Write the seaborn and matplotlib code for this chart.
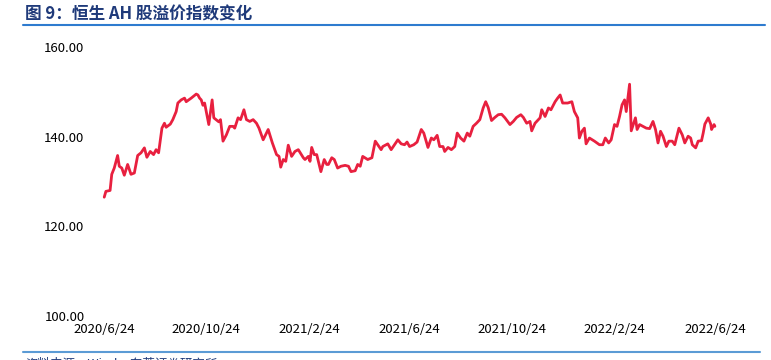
import matplotlib
matplotlib.use("Agg")
import matplotlib.pyplot as plt
import matplotlib.dates as mdates
import pandas as pd
import seaborn as sns

# ---- data ----
dates = [
    "2020-06-24", "2020-06-26", "2020-07-01", "2020-07-03", "2020-07-06", "2020-07-10", "2020-07-12",
    "2020-07-15", "2020-07-18", "2020-07-22", "2020-07-26", "2020-07-30", "2020-08-03", "2020-08-07",
    "2020-08-11", "2020-08-14", "2020-08-18", "2020-08-22", "2020-08-25", "2020-08-28", "2020-09-01",
    "2020-09-04", "2020-09-06", "2020-09-11", "2020-09-14", "2020-09-18", "2020-09-20", "2020-09-24",
    "2020-09-28", "2020-09-30", "2020-10-06", "2020-10-12", "2020-10-14", "2020-10-16", "2020-10-18",
    "2020-10-20", "2020-10-22", "2020-10-27", "2020-10-31", "2020-11-02", "2020-11-08", "2020-11-10",
    "2020-11-13", "2020-11-17", "2020-11-21", "2020-11-25", "2020-11-27", "2020-12-01", "2020-12-04",
    "2020-12-08", "2020-12-11", "2020-12-15", "2020-12-19", "2020-12-23", "2020-12-26", "2020-12-31",
    "2021-01-06", "2021-01-11", "2021-01-16", "2021-01-19", "2021-01-21", "2021-01-24", "2021-01-27",
    "2021-01-30", "2021-02-03", "2021-02-07", "2021-02-11", "2021-02-17", "2021-02-19", "2021-02-23",
    "2021-02-25", "2021-02-27", "2021-03-02", "2021-03-05", "2021-03-10", "2021-03-14", "2021-03-17",
    "2021-03-19", "2021-03-23", "2021-03-26", "2021-03-30", "2021-04-03", "2021-04-08", "2021-04-12",
    "2021-04-15", "2021-04-20", "2021-04-23", "2021-04-26", "2021-04-29", "2021-05-05", "2021-05-10",
    "2021-05-14", "2021-05-17", "2021-05-21", "2021-05-23", "2021-05-29", "2021-06-02", "2021-06-06",
    "2021-06-10", "2021-06-14", "2021-06-18", "2021-06-21", "2021-06-24", "2021-06-29", "2021-07-03",
    "2021-07-08", "2021-07-11", "2021-07-16", "2021-07-20", "2021-07-23", "2021-07-27", "2021-07-30",
    "2021-08-03", "2021-08-05", "2021-08-09", "2021-08-13", "2021-08-17", "2021-08-20", "2021-08-24",
    "2021-08-28", "2021-09-01", "2021-09-04", "2021-09-08", "2021-09-12", "2021-09-16", "2021-09-20",
    "2021-09-23", "2021-09-26", "2021-09-30", "2021-10-04", "2021-10-08", "2021-10-12", "2021-10-16",
    "2021-10-22", "2021-10-26", "2021-10-30", "2021-11-04", "2021-11-07", "2021-11-11", "2021-11-15",
    "2021-11-17", "2021-11-21", "2021-11-24", "2021-11-27", "2021-11-29", "2021-12-03", "2021-12-07",
    "2021-12-10", "2021-12-15", "2021-12-18", "2021-12-21", "2021-12-24", "2021-12-30", "2022-01-04",
    "2022-01-07", "2022-01-11", "2022-01-13", "2022-01-16", "2022-01-19", "2022-01-21", "2022-01-25",
    "2022-01-31", "2022-02-06", "2022-02-10", "2022-02-13", "2022-02-17", "2022-02-20", "2022-02-24",
    "2022-02-27", "2022-03-02", "2022-03-05", "2022-03-08", "2022-03-10", "2022-03-12", "2022-03-14",
    "2022-03-16", "2022-03-19", "2022-03-21", "2022-03-23", "2022-03-26", "2022-03-30", "2022-04-03",
    "2022-04-07", "2022-04-11", "2022-04-14", "2022-04-17", "2022-04-20", "2022-04-23", "2022-04-27",
    "2022-04-30", "2022-05-04", "2022-05-07", "2022-05-12", "2022-05-16", "2022-05-19", "2022-05-23",
    "2022-05-26", "2022-05-28", "2022-06-01", "2022-06-04", "2022-06-08", "2022-06-10", "2022-06-12",
    "2022-06-16", "2022-06-19", "2022-06-20", "2022-06-23", "2022-06-24",
]
ah_premium = [
    126.5, 127.8, 128.0, 131.6, 133.0, 135.8, 133.4,
    133.0, 131.4, 133.8, 131.6, 131.9, 135.8, 136.4,
    137.5, 135.4, 136.7, 136.0, 137.1, 136.4, 141.9,
    143.0, 142.1, 142.8, 143.8, 145.6, 147.5, 148.2,
    148.6, 147.8, 148.6, 149.5, 149.3, 148.6, 148.2,
    147.0, 147.5, 142.7, 148.2, 144.2, 143.3, 143.8,
    139.0, 140.4, 142.3, 142.3, 141.9, 144.2, 143.8,
    146.0, 143.8, 143.4, 143.8, 143.0, 141.9, 139.3,
    141.6, 138.6, 136.0, 135.6, 133.2, 134.9, 134.5,
    138.1, 135.6, 136.7, 137.1, 135.3, 134.9, 135.6,
    134.5, 137.6, 136.0, 136.0, 132.2, 134.9, 133.8,
    133.8, 135.3, 134.9, 133.0, 133.4, 133.6, 133.4,
    132.2, 132.4, 133.8, 133.4, 135.6, 134.9, 135.3,
    139.0, 138.2, 137.1, 137.8, 138.4, 137.1, 138.2,
    139.3, 138.4, 138.2, 138.8, 137.8, 138.2, 138.8,
    141.6, 140.8, 137.6, 139.7, 139.3, 140.3, 137.8,
    137.8, 136.7, 137.6, 137.1, 137.8, 140.8, 139.7,
    139.0, 140.8, 140.1, 142.3, 143.0, 143.8, 146.4,
    147.8, 146.5, 143.6, 144.3, 144.9, 145.0, 144.2,
    142.7, 143.4, 144.3, 144.9, 144.3, 143.0, 143.4,
    141.3, 143.0, 143.6, 144.2, 146.0, 144.5, 146.4,
    146.0, 147.8, 148.6, 149.3, 147.5, 147.5, 147.8,
    145.6, 144.2, 139.7, 141.2, 141.9, 138.4, 139.7,
    139.0, 138.2, 138.2, 139.7, 138.6, 139.3, 142.7,
    142.3, 144.5, 147.1, 148.2, 145.6, 148.6, 151.7,
    141.3, 143.0, 144.2, 141.6, 142.7, 142.3, 141.9,
    141.8, 143.4, 141.6, 138.6, 141.2, 140.1, 137.8,
    139.0, 139.0, 138.2, 141.9, 140.4, 138.6, 140.1,
    139.7, 138.2, 137.5, 139.0, 139.1, 140.8, 142.8,
    144.2, 142.8, 141.6, 142.7, 142.3,
]
tick_dates = ["2020-06-24", "2020-10-24", "2021-02-24", "2021-06-24",
              "2021-10-24", "2022-02-24", "2022-06-24"]
tick_labels = ["2020/6/24", "2020/10/24", "2021/2/24", "2021/6/24",
               "2021/10/24", "2022/2/24", "2022/6/24"]
y_ticks = [100, 120, 140, 160]
title_text = "图 9：恒生 AH 股溢价指数变化"
source_text = "资料来源：Wind，东莞证券研究所"

# ---- style ----
sns.set_theme(style="white")
plt.rcParams["font.family"] = ["Noto Sans CJK SC", "DejaVu Sans"]

df = pd.DataFrame({"date": pd.to_datetime(dates), "value": ah_premium})

W, H = 771, 360
fig = plt.figure(figsize=(W / 100, H / 100), dpi=100)
ax = fig.add_axes([90 / W, 1 - 316 / H, (740 - 90) / W, (316 - 47) / H])

sns.lineplot(data=df, x="date", y="value", ax=ax, color="#E8203F",
             linewidth=2.0, solid_joinstyle="round")

start = pd.Timestamp(tick_dates[0])
end = pd.Timestamp(tick_dates[-1])
ax.set_xlim(start - pd.Timedelta(days=17), end + pd.Timedelta(days=30))
ax.set_ylim(100, 160)

ax.set_xticks(mdates.date2num(pd.to_datetime(tick_dates)))
ax.set_xticklabels(tick_labels, fontsize=9.5, color="#000000")
ax.set_yticks(y_ticks)
ax.set_yticklabels([f"{v:.2f}" for v in y_ticks], fontsize=9.5, color="#000000")
ax.tick_params(axis="both", length=0, pad=4)
ax.tick_params(axis="x", pad=5)
ax.set_xlabel("")
ax.set_ylabel("")
for s in ax.spines.values():
    s.set_visible(False)
ax.grid(False)

# title and rules
fig.text(25 / W, 1 - 14 / H, title_text, fontsize=12, fontweight="bold",
         color="#1F3A7A", ha="left", va="center")
fig.add_artist(plt.Line2D([23 / W, 765 / W], [1 - 25 / H, 1 - 25 / H],
                          color="#2E7BCF", linewidth=1.5, transform=fig.transFigure))
fig.add_artist(plt.Line2D([23 / W, 760 / W], [1 - 352 / H, 1 - 352 / H],
                          color="#5B9BD5", linewidth=1.5, transform=fig.transFigure))
fig.text(25 / W, 1 - 364 / H, source_text, fontsize=9, color="#1F3A7A",
         ha="left", va="center")

fig.savefig("out.png", dpi=100)
